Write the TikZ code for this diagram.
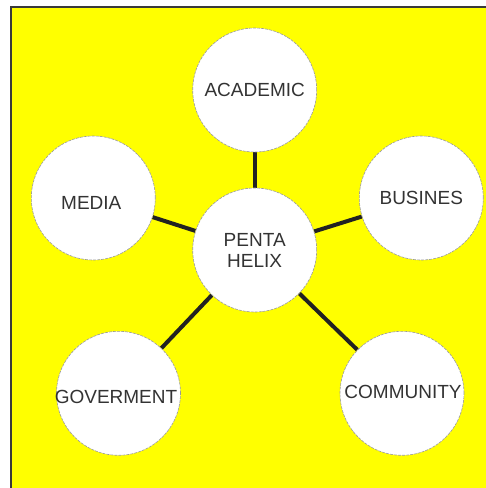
\documentclass[tikz,border=0pt]{standalone}
\usepackage{fontspec}
\setmainfont{Liberation Sans}
\usetikzlibrary{backgrounds}
\definecolor{txtgray}{HTML}{333333}
\definecolor{linedark}{HTML}{222222}
\definecolor{framegray}{HTML}{3A3A3A}
\definecolor{bgyellow}{RGB}{255,255,0}
\tikzset{
  bubble/.style={circle, fill=white, draw=gray!80, line width=0.6pt,
    dash pattern=on 3pt off 1pt, minimum size=124pt, inner sep=0pt},
  bubbletext/.style={text=txtgray, font=\fontsize{19}{21}\selectfont,
    align=center, inner sep=0pt},
  link/.style={draw=linedark, line width=4pt}
}
\begin{document}
\begin{tikzpicture}[x=1pt,y=1pt]
\useasboundingbox (0,0) rectangle (486,-488);
\node[bubble, label={[bubbletext]center:PENTA\\HELIX}] (penta) at (254.7,-250) {};
\node[bubble, label={[bubbletext]center:ACADEMIC}] (acad) at (254.7,-90) {};
\node[bubble, label={[bubbletext, xshift=-2pt, yshift=-5pt]center:MEDIA}] (media) at (93.3,-198) {};
\node[bubble, label={[bubbletext]center:BUSINES}] (busi) at (421.3,-198) {};
\node[bubble, label={[bubbletext, xshift=-2.5pt, yshift=-3.5pt]center:GOVERMENT}] (gov) at (118.5,-393.3) {};
\node[bubble, label={[bubbletext, xshift=1pt, yshift=1.5pt]center:COMMUNITY}] (comm) at (402,-393.3) {};
\begin{scope}[on background layer]
  \fill[bgyellow] (11,-7) rectangle (487,-489);
  \draw[framegray, line width=1.5pt] (11,-489) -- (11,-7) -- (487,-7);
  \draw[link] (acad) -- (penta);
  \draw[link] (media) -- (penta);
  \draw[link] (busi) -- (penta);
  \draw[link] (gov) -- (penta);
  \draw[link] (comm) -- (penta);
\end{scope}
\end{tikzpicture}
\end{document}
